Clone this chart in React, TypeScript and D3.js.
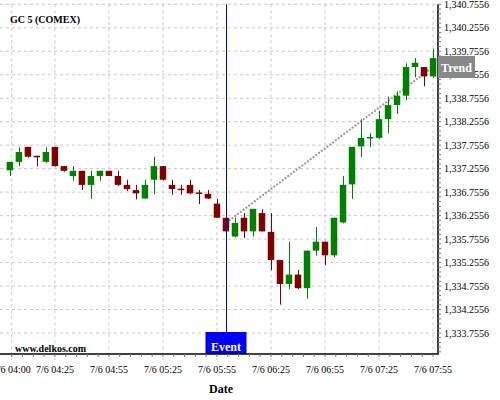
import React from "react";
import * as d3 from "d3";

const times = [
  "04:00","04:05","04:10","04:15","04:20","04:25","04:30","04:35","04:40","04:45","04:50","04:55",
  "05:00","05:05","05:10","05:15","05:20","05:25","05:30","05:35","05:40","05:45","05:50","05:55",
  "06:00","06:05","06:10","06:15","06:20","06:25","06:30","06:35","06:40","06:45","06:50","06:55",
  "07:00","07:05","07:10","07:15","07:20","07:25","07:30","07:35","07:40","07:45","07:50","07:55",
];
const opens = [
  1337.22,1337.40,1337.72,1337.53,1337.40,1337.72,1337.31,1337.10,1337.21,1336.91,1337.10,1337.21,
  1337.10,1336.91,1336.80,1336.62,1337.02,1337.31,1336.91,1336.83,1336.91,1336.75,1336.72,1336.51,
  1336.21,1335.81,1336.21,1335.92,1336.31,1335.91,1335.31,1334.80,1335.00,1334.71,1335.51,1335.70,
  1335.41,1336.11,1336.92,1337.73,1337.91,1337.91,1338.31,1338.61,1338.81,1339.42,1339.42,1339.22,
];
const highs = [
  1337.40,1337.71,1337.72,1337.53,1337.71,1337.72,1337.31,1337.31,1337.21,1337.21,1337.21,1337.21,
  1337.21,1337.02,1336.91,1337.02,1337.51,1337.31,1337.02,1336.91,1337.02,1336.80,1336.80,1336.61,
  1336.21,1336.21,1336.31,1336.40,1336.39,1336.31,1335.31,1335.70,1335.10,1335.51,1336.01,1335.70,
  1336.21,1337.10,1337.72,1338.31,1338.01,1338.49,1338.79,1338.90,1339.50,1339.61,1339.42,1339.81,
];
const lows = [
  1337.10,1337.31,1337.49,1337.30,1337.38,1337.30,1337.19,1337.00,1336.80,1336.61,1337.00,1337.10,
  1336.89,1336.78,1336.60,1336.61,1336.71,1337.00,1336.70,1336.70,1336.71,1336.50,1336.61,1336.21,
  1335.92,1335.79,1335.78,1335.81,1335.92,1335.09,1334.36,1334.69,1334.69,1334.49,1335.40,1335.20,
  1335.37,1336.09,1336.61,1337.50,1337.71,1337.89,1338.01,1338.42,1338.71,1339.20,1339.01,1339.19,
];
const closes = [
  1337.40,1337.61,1337.51,1337.51,1337.61,1337.31,1337.21,1337.21,1336.91,1337.10,1337.21,1337.10,
  1336.91,1336.82,1336.73,1336.91,1337.31,1337.02,1336.82,1336.81,1336.73,1336.73,1336.62,1336.21,
  1335.92,1336.10,1335.92,1336.40,1335.92,1335.31,1334.80,1335.00,1334.71,1335.51,1335.70,1335.41,
  1336.21,1336.91,1337.72,1337.91,1337.93,1338.31,1338.61,1338.81,1339.42,1339.51,1339.22,1339.61,
];

const yTickValues = [
  1333.7556,1334.2556,1334.7556,1335.2556,1335.7556,1336.2556,1336.7556,
  1337.2556,1337.7556,1338.2556,1338.7556,1339.2556,1339.7556,1340.2556,1340.7556,
];
const yMinorTickValues = d3.range(1333.3556, 1340.80, 0.1);
const xTickTimes = ["04:01","04:25","04:55","05:25","05:55","06:25","06:55","07:25","07:55"];
const xTickLabels = ["7/6 04:00","7/6 04:25","7/6 04:55","7/6 05:25","7/6 05:55","7/6 06:25","7/6 06:55","7/6 07:25","7/6 07:55"];
const xDomain = ["03:54:30","07:57:45"];
const yDomain = [1333.3088, 1340.7556];
const eventTime = "06:00";
const trendTimes = ["06:00","07:55"];
const trendValues = [1336.10, 1339.42];
const titleText = "GC 5 (COMEX)";
const watermark = "www.delkos.com";
const xAxisTitle = "Date";

const toDate = (s: string) => {
  const [h, m, sec] = s.split(":").map(Number);
  return new Date(2020, 6, 6, h, m, sec || 0);
};

const W = 500, H = 400;
const plot = { left: 0, right: 438, top: 4.3, bottom: 354 };
const FONT = "'Liberation Serif', 'Times New Roman', serif";
const UP = "#008000";
const DOWN = "#800000";
const GRID = "#c8c8c8";

export default function App() {
  const x = d3.scaleTime().domain(xDomain.map(toDate)).range([plot.left, plot.right]);
  const y = d3.scaleLinear().domain(yDomain).range([plot.bottom, plot.top]);
  const step = x(toDate("04:05")) - x(toDate("04:00"));
  const bodyW = step * 0.72;

  const candles = times.map((t, i) => ({
    t: toDate(t), o: opens[i], h: highs[i], l: lows[i], c: closes[i],
  }));

  const minorStart = toDate(xTickTimes[0]);
  const minorEnd = toDate(xTickTimes[xTickTimes.length - 1]);
  const xMinor = d3.timeMinute.range(minorStart, new Date(minorEnd.getTime() + 1000))
    .filter((d) => ((d.getTime() - minorStart.getTime()) / 60000) % 6 === 0);

  const trendLine = d3.line<[Date, number]>().x((d) => x(d[0])).y((d) => y(d[1]));
  const trendPts: [Date, number][] = trendTimes.map((t, i) => [toDate(t), trendValues[i]]);

  const ex = Math.round(x(toDate(eventTime))) + 0.5;
  const trendY = y(trendValues[1]);

  return (
    <svg width={W} height={H} style={{ position: "absolute", left: 0, top: 0, background: "#fff" }}
      fontFamily={FONT}>
      <rect x={0} y={0} width={W} height={H} fill="#fff" />
      {yTickValues.map((v) => (
        <line key={"hg" + v} x1={plot.left} x2={plot.right} y1={y(v)} y2={y(v)}
          stroke={GRID} strokeWidth={1} strokeDasharray="3,3" />
      ))}
      {xTickTimes.map((t) => (
        <line key={"vg" + t} x1={x(toDate(t))} x2={x(toDate(t))} y1={plot.top} y2={plot.bottom + 6}
          stroke={GRID} strokeWidth={1} strokeDasharray="3,3" />
      ))}
      <path d={trendLine(trendPts) || ""} fill="none" stroke="#999" strokeWidth={2} strokeDasharray="2,1.5" />
      {candles.map((d, i) => {
        const cx = x(d.t);
        const up = d.c >= d.o;
        const col = up ? UP : DOWN;
        const top = y(Math.max(d.o, d.c));
        const bot = y(Math.min(d.o, d.c));
        return (
          <g key={i}>
            <line x1={Math.round(cx) + 0.5} x2={Math.round(cx) + 0.5} y1={y(d.h)} y2={y(d.l)} stroke={col} strokeWidth={1} />
            <rect x={cx - bodyW / 2} y={top} width={bodyW} height={Math.max(1.5, bot - top)} fill={col} />
          </g>
        );
      })}
      <line x1={ex} x2={ex} y1={plot.top} y2={plot.bottom - 22} stroke="#0000e0" strokeWidth={1} />
      <rect x={ex - 21} y={plot.bottom - 22} width={41} height={22} fill="#0000ff" />
      <text x={ex - 0.5} y={plot.bottom - 3.5} textAnchor="middle" fill="#fff" fontWeight="bold" fontSize={12}>Event</text>
      <line x1={plot.left} x2={plot.right + 0.75} y1={plot.bottom} y2={plot.bottom} stroke="#000" strokeWidth={1.5} />
      <line x1={plot.right} x2={plot.right} y1={plot.top} y2={plot.bottom} stroke="#000" strokeWidth={1.5} />
      {xMinor.map((t, i) => (
        <line key={"xm" + i} x1={x(t)} x2={x(t)} y1={plot.bottom} y2={plot.bottom + 3} stroke="#777" strokeWidth={1} />
      ))}
      {yMinorTickValues.map((v, i) => (
        <line key={"ym" + i} x1={plot.right} x2={plot.right + 3} y1={y(v)} y2={y(v)} stroke="#777" strokeWidth={1} />
      ))}
      {yTickValues.map((v) => (
        <text key={"yl" + v} x={plot.right + 6} y={y(v)} dy="0.35em" fontSize={10} fill="#000">
          {d3.format(",.4f")(v)}
        </text>
      ))}
      {xTickTimes.map((t, i) => (
        <text key={"xl" + t} x={x(toDate(t))} y={373} textAnchor="middle" fontSize={10} fill="#000">
          {xTickLabels[i]}
        </text>
      ))}
      <rect x={plot.right} y={trendY - 11} width={37} height={22} fill="#888" />
      <text x={plot.right + 18.5} y={trendY + 5} textAnchor="middle" fill="#fff" fontWeight="bold" fontSize={12}>Trend</text>
      <text x={10} y={23} fontSize={10} fontWeight="bold" fill="#000">{titleText}</text>
      <text x={15} y={352} fontSize={10} fontWeight="bold" fill="#000">{watermark}</text>
      <text x={221} y={393} fontSize={12} fontWeight="bold" textAnchor="middle" fill="#000">{xAxisTitle}</text>
    </svg>
  );
}
